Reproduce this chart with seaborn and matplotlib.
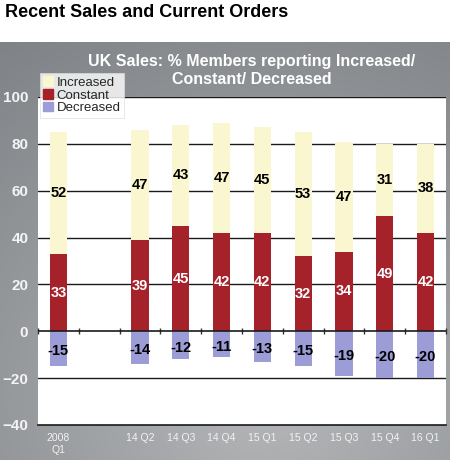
import numpy as np
import pandas as pd
import matplotlib
matplotlib.use("Agg")
import matplotlib.pyplot as plt
from matplotlib.colors import LinearSegmentedColormap
from matplotlib.patches import Patch
import seaborn as sns

# data
quarters = ["2008\nQ1", " ", "14 Q2", "14 Q3", "14 Q4", "15 Q1", "15 Q2", "15 Q3", "15 Q4", "16 Q1"]
increased = [52, np.nan, 47, 43, 47, 45, 53, 47, 31, 38]
constant = [33, np.nan, 39, 45, 42, 42, 32, 34, 49, 42]
decreased = [-15, np.nan, -14, -12, -11, -13, -15, -19, -20, -20]

col_inc = "#faf6cf"
col_con = "#a5222b"
col_dec = "#9c9cd6"

sns.set_style("white")
plt.rcParams["font.family"] = ["Liberation Sans", "DejaVu Sans"]

df = pd.DataFrame({"quarter": quarters, "increased": increased,
                   "constant": constant, "decreased": decreased})
df["total"] = df["increased"] + df["constant"]

fig = plt.figure(figsize=(4.5, 4.63), dpi=100)

# grey panel with a soft gradient
bg = fig.add_axes([0.0, 0.0065, 0.998, 0.9025])
yy, xx = np.mgrid[0:1:200j, 0:1:200j]
shade = 1 - np.sqrt(((xx - 0.6) / 0.9) ** 2 + ((yy - 0.85) / 0.9) ** 2)
cmap = LinearSegmentedColormap.from_list("g", ["#7f8286", "#b4b6b8"])
bg.imshow(shade, cmap=cmap, aspect="auto", extent=[0, 1, 0, 1])
bg.set_axis_off()

ax = fig.add_axes([0.0844, 0.0821, 0.9066, 0.7084])
ax.set_facecolor("white")

# stacked look: total (yellow) first, constant (red) over it, decreased below zero
sns.barplot(data=df, x="quarter", y="total", order=quarters, color=col_inc,
            width=0.42, saturation=1, linewidth=0, ax=ax)
sns.barplot(data=df, x="quarter", y="constant", order=quarters, color=col_con,
            width=0.42, saturation=1, linewidth=0, ax=ax)
sns.barplot(data=df, x="quarter", y="decreased", order=quarters, color=col_dec,
            width=0.42, saturation=1, linewidth=0, ax=ax)
if ax.get_legend() is not None:
    ax.get_legend().remove()

# value labels in the middle of each segment
for i, row in df.iterrows():
    if np.isnan(row["constant"]):
        continue
    ax.text(i, row["constant"] + row["increased"] / 2, f"{row['increased']:.0f}",
            ha="center", va="center", fontsize=10.5, fontweight="bold", color="black")
    ax.text(i, row["constant"] / 2, f"{row['constant']:.0f}",
            ha="center", va="center", fontsize=10.5, fontweight="bold", color="white")
    ax.text(i, row["decreased"] / 2 - 1, f"{row['decreased']:.0f}",
            ha="center", va="center", fontsize=10.5, fontweight="bold", color="black")

ax.set_xlim(-0.5, 9.5)
ax.set_ylim(-40, 100)
ax.set_yticks([-40, -20, 0, 20, 40, 60, 80, 100])
ax.set_xlabel("")
ax.set_ylabel("")
for v in [-20, 20, 40, 60, 80, 100]:
    ax.axhline(v, color="#1a1a1a", lw=1.0, zorder=0.5)
for s in ["top", "right", "left"]:
    ax.spines[s].set_visible(False)
ax.spines["bottom"].set_color("#1a1a1a")
ax.spines["bottom"].set_linewidth(1.2)

ax.tick_params(axis="y", length=4, width=1, color="#222222", pad=3,
               labelcolor="#f4f4f4", labelsize=11)
for t in ax.get_yticklabels():
    t.set_fontweight("bold")
ax.tick_params(axis="x", length=0, pad=6, labelcolor="#f2f2f2", labelsize=7.5)

# zero line with category separators
ax.axhline(0, color="#1a1a1a", lw=1.2, zorder=3)
sec = ax.secondary_xaxis(40 / 140)
sec.set_xticks(np.arange(-0.5, 10, 1))
sec.set_xticklabels([])
sec.tick_params(axis="x", direction="inout", length=5, width=1, color="#333333")
sec.spines["bottom"].set_visible(False)

fig.text(0.012, 0.992, "Recent Sales and Current Orders", ha="left", va="top",
         fontsize=13, fontweight="bold", color="black")
fig.text(0.56, 0.868, "UK Sales: % Members reporting Increased/",
         ha="center", va="center", fontsize=11.5, fontweight="bold", color="white")
fig.text(0.56, 0.829, "Constant/ Decreased",
         ha="center", va="center", fontsize=11.5, fontweight="bold", color="white")

handles = [Patch(color=col_inc, label="Increased"),
           Patch(color=col_con, label="Constant"),
           Patch(color=col_dec, label="Decreased")]
leg = fig.legend(handles=handles, loc="upper left", bbox_to_anchor=(0.089, 0.842),
                 fontsize=9.5, frameon=True, fancybox=False, edgecolor="#dddddd",
                 handlelength=0.7, handleheight=0.7, handletextpad=0.3,
                 labelspacing=0.05, borderpad=0.25, borderaxespad=0)
leg.get_frame().set_linewidth(0.6)

fig.savefig("out.png", dpi=100)
